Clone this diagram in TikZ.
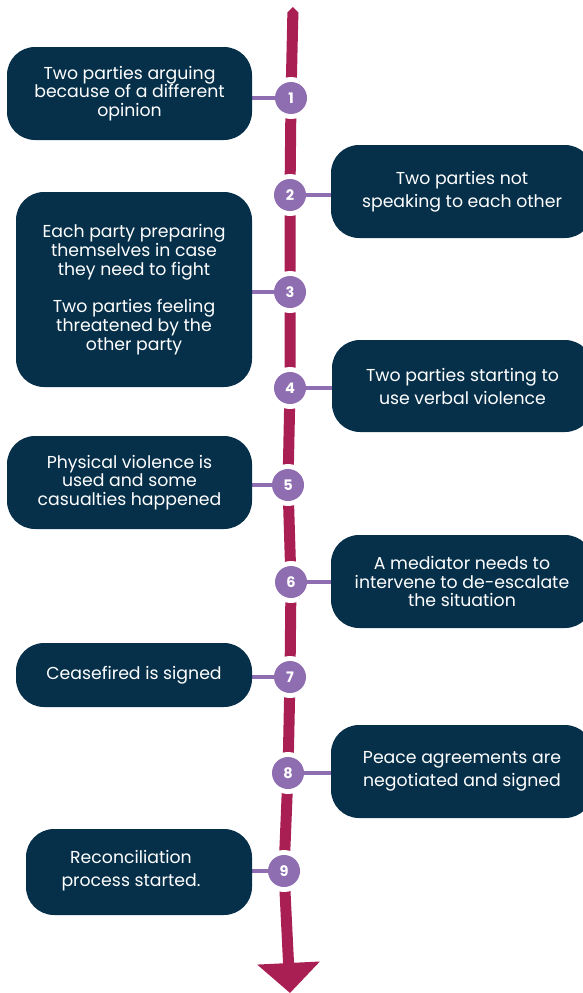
\documentclass[tikz,border=0pt]{standalone}
\usepackage{fontspec}
\setmainfont{Poppins}
\usetikzlibrary{arrows.meta}

\definecolor{navy}{HTML}{06304A}
\definecolor{plum}{HTML}{8E6DB1}
\definecolor{crimson}{HTML}{A91E53}

\pgfdeclarelayer{spinelayer}
\pgfdeclarelayer{gaplayer}
\pgfdeclarelayer{linklayer}
\pgfsetlayers{spinelayer,gaplayer,linklayer,main}

\tikzset{
  stage/.style={fill=navy, text=white, rounded corners=28pt, align=center,
    inner sep=0pt, font=\fontsize{17.3}{18.8}\selectfont},
  widestage/.style={stage, font=\fontsize{17.3}{23}\selectfont},
  stagetext/.style={text=white, align=center, inner sep=0pt,
    font=\fontsize{17.3}{23}\selectfont},
  num/.style={circle, fill=plum, text=white, minimum size=32pt, inner sep=0pt,
    font=\fontsize{14.5}{14.5}\selectfont\bfseries},
  link/.style={draw=plum, line width=3.5pt},
  spine/.style={draw=crimson, line width=11pt, line join=round},
  gap/.style={fill=white}
}

\begin{document}
\begin{tikzpicture}[x=1pt, y=-1pt]
\useasboundingbox (0,0) rectangle (582,993);

% numbered steps on the timeline
\node[num] (c1) at (291,98)  {1};
\node[num] (c2) at (290,195) {2};
\node[num] (c3) at (290,292) {3};
\node[num] (c4) at (290,388) {4};
\node[num] (c5) at (288,485) {5};
\node[num] (c6) at (291,582) {6};
\node[num] (c7) at (290,677) {7};
\node[num] (c8) at (288,773) {8};
\node[num] (c9) at (284,871) {9};

\coordinate (top) at (293,7);
\coordinate (tip) at (290,993);

% stage boxes
\node[stage, minimum width=245pt, minimum height=93pt] (b1) at (129.5,93.5)
  {Two parties arguing\\because of a different\\opinion};
\node[widestage, minimum width=262pt, minimum height=93pt] (b2) at (462,191.5)
  {Two parties not\\speaking to each other};
\node[stage, minimum width=236pt, minimum height=195pt] (b3) at (134,289.5)
  {Each party preparing\\themselves in case\\they need to fight\\[18.8pt]Two parties feeling\\threatened by the\\other party};
\node[widestage, minimum width=261pt, minimum height=92pt] (b4) at (462.5,386)
  {Two parties starting to\\use verbal violence};
\node[stage, minimum width=245pt, minimum height=93pt] (b5) at (129.5,482.5)
  {Physical violence is\\used and some\\casualties happened};
\node[stage, minimum width=262pt, minimum height=93pt] (b6) at (462,581.5)
  {A mediator needs to\\intervene to de-escalate\\the situation};
\node[stage, minimum width=236pt, minimum height=64pt] (b7) at (134,675)
  {Ceasefired is signed};
\node[widestage, minimum width=262pt, minimum height=93pt] (b8) at (462,771.5)
  {Peace agreements are\\negotiated and signed};
\node[stage, minimum width=226pt, minimum height=86pt] (b9) at (139,872) {};
\node[stagetext] (b9t) at (131,871) {Reconciliation\\process started.};

% the timeline spine with its arrow head
\begin{pgfonlayer}{spinelayer}
\draw[spine, {Triangle Cap}-{Triangle[width=61pt,length=30pt]}]
  (top) -- (c1.center) -- (c2.center) -- (c3.center) -- (c4.center)
  -- (c5.center) -- (c6.center) -- (c7.center) -- (c8.center)
  -- (c9.center) -- (tip);
\end{pgfonlayer}

% white gaps around the step markers
\begin{pgfonlayer}{gaplayer}
\foreach \i in {1,...,9} \fill[gap] (c\i) circle (21pt);
\end{pgfonlayer}

% connectors from markers to boxes
\begin{pgfonlayer}{linklayer}
\draw[link] (c1.center) -- (c1 -| b1.east);
\draw[link] (c2.center) -- (c2 -| b2.west);
\draw[link] (c3.center) -- (c3 -| b3.east);
\draw[link] (c4.center) -- (c4 -| b4.west);
\draw[link] (c5.center) -- (c5 -| b5.east);
\draw[link] (c6.center) -- (c6 -| b6.west);
\draw[link] (c7.center) -- (c7 -| b7.east);
\draw[link] (c8.center) -- (c8 -| b8.west);
\draw[link] (c9.center) -- (c9 -| b9.east);
\end{pgfonlayer}
\end{tikzpicture}
\end{document}
